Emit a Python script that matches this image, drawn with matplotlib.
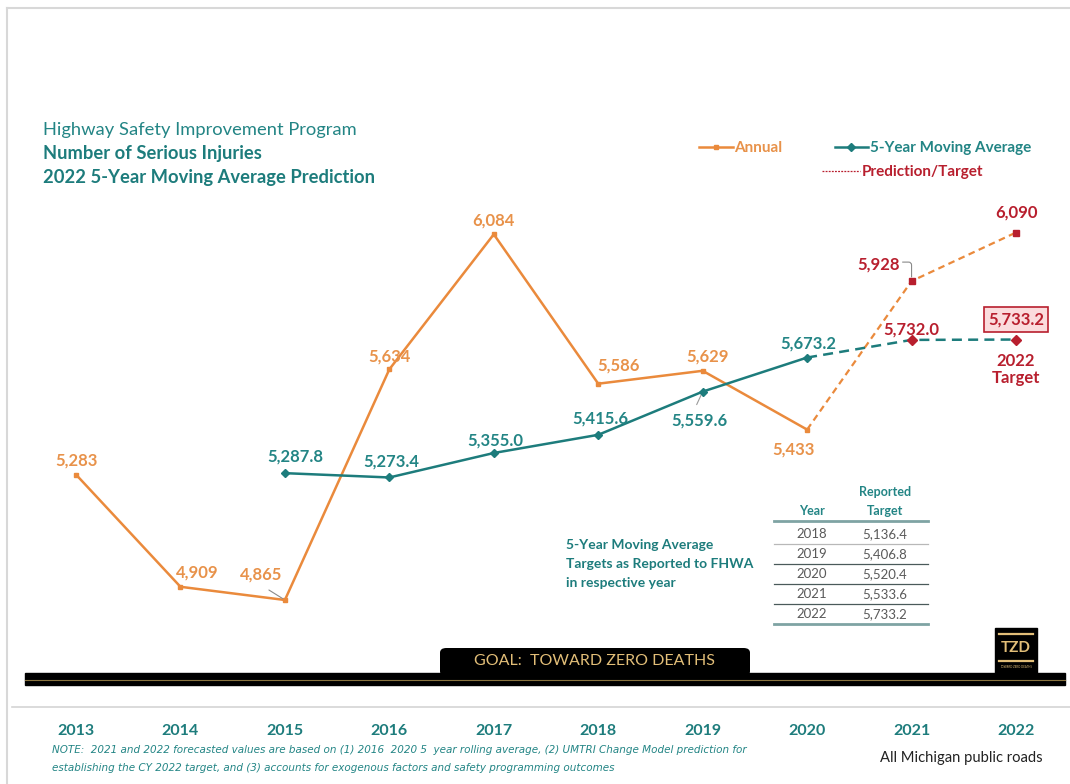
import numpy as np
import matplotlib.pyplot as plt
from matplotlib.lines import Line2D
from matplotlib.patches import Rectangle, FancyBboxPatch

# ---- data ----
years = [2013, 2014, 2015, 2016, 2017, 2018, 2019, 2020, 2021, 2022]
annual = [5283, 4909, 4865, 5634, 6084, 5586, 5629, 5433, 5928, 6090]
ma_years = [2015, 2016, 2017, 2018, 2019, 2020, 2021, 2022]
moving_avg = [5287.8, 5273.4, 5355.0, 5415.6, 5559.6, 5673.2, 5732.0, 5733.2]
n_actual = 8        # annual values up to 2020 are actual
n_ma_actual = 6     # moving avg up to 2020 is actual

table_years = [2018, 2019, 2020, 2021, 2022]
table_targets = [5136.4, 5406.8, 5520.4, 5533.6, 5733.2]

ORANGE = "#EA8A3C"
ORANGE_TXT = "#E8924A"
TEAL = "#1D7C7C"
TEAL_TXT = "#238585"
RED = "#B81F2E"
GOLD = "#E2BE78"
FONT = "Lato"

plt.rcParams['font.family'] = [FONT, 'DejaVu Sans']

W, H = 1070, 784
fig = plt.figure(figsize=(W / 100, H / 100), dpi=100)

def fx(px):
    return px / W

def fy(py):
    return 1 - py / H

# axes: pixel 12..1070 horizontally, 100..707 vertically
ax = fig.add_axes([fx(12), fy(707), fx(1058), (707 - 100) / H])
ax.set_xlim(2012.387, 2022.517)
ax.set_ylim(4508.3, 6531.7)
for s in ["top", "left", "right"]:
    ax.spines[s].set_visible(False)
ax.spines["bottom"].set_color("#d4d4d4")
ax.spines["bottom"].set_linewidth(1.2)
ax.set_yticks([])
ax.set_xticks(years)
ax.set_xticklabels([str(y) for y in years], color=TEAL, fontweight="bold", fontsize=11.5)
ax.tick_params(axis="x", length=0, pad=12)

# annual actual
ax.plot(years[:n_actual], annual[:n_actual], color=ORANGE, lw=1.8,
        marker="s", ms=3.5, zorder=3)
# annual prediction
ax.plot(years[n_actual - 1:], annual[n_actual - 1:], color=ORANGE, lw=1.6,
        ls=(0, (3, 2)), zorder=3)
ax.plot(years[n_actual:], annual[n_actual:], ls="none", marker="s", ms=4,
        color=RED, zorder=4)

# moving average actual
ax.plot(ma_years[:n_ma_actual], moving_avg[:n_ma_actual], color=TEAL, lw=1.8,
        marker="D", ms=4.5, zorder=3)
ax.plot(ma_years[n_ma_actual - 1:], moving_avg[n_ma_actual - 1:], color=TEAL,
        lw=1.8, ls=(0, (4, 2.5)), zorder=3)
ax.plot(ma_years[n_ma_actual:], moving_avg[n_ma_actual:], ls="none", marker="D",
        ms=5, color=RED, zorder=4)

# ---- data labels ----
LBL = 12
ann_off = [(0, 14), (17, 14), (-24, 25), (0, 13), (0, 14), (20, 18), (5, 14),
           (-14, -20), (-33, 17), (0, 20)]
for i, (x, v) in enumerate(zip(years, annual)):
    col = ORANGE_TXT if i < n_actual else RED
    ax.annotate(f"{v:,}", (x, v), xytext=ann_off[i], textcoords="offset pixels",
                ha="center", va="center", fontsize=LBL, fontweight="bold", color=col)

ma_off = [(10, 17), (2, 16), (2, 12), (2, 16), (-3, -29), (1, 14), (0, 10), (0, 20)]
for i, (x, v) in enumerate(zip(ma_years, moving_avg)):
    col = TEAL_TXT if i < n_ma_actual else RED
    if i == len(ma_years) - 1:
        ax.annotate(f"{v:,.1f}", (x, v), xytext=ma_off[i], textcoords="offset pixels",
                    ha="center", va="center", fontsize=LBL, fontweight="bold", color=col,
                    bbox=dict(boxstyle="square,pad=0.25", fc="#FBDCDD", ec=RED, lw=1.2))
    else:
        ax.annotate(f"{v:,.1f}", (x, v), xytext=ma_off[i], textcoords="offset pixels",
                    ha="center", va="center", fontsize=LBL, fontweight="bold", color=col)

ax.annotate("2022\nTarget", (ma_years[-1], moving_avg[-1]), xytext=(0, -30),
            textcoords="offset pixels", ha="center", va="center", fontsize=LBL,
            fontweight="bold", color=RED, linespacing=1.1)

# leader lines
ax.annotate("", (years[2], annual[2]), xytext=(-16, 10), textcoords="offset pixels",
            arrowprops=dict(arrowstyle="-", color="#8a8a8a", lw=0.8, shrinkA=0, shrinkB=2))
ax.annotate("", (ma_years[4], moving_avg[4]), xytext=(-6, -13), textcoords="offset pixels",
            arrowprops=dict(arrowstyle="-", color="#9a9a9a", lw=0.8, shrinkA=0, shrinkB=3))
ax.annotate("", (years[8], annual[8]), xytext=(-9, 19), textcoords="offset pixels",
            arrowprops=dict(arrowstyle="-", color="#8a8a8a", lw=0.8, shrinkA=0, shrinkB=3,
                            connectionstyle="angle,angleA=0,angleB=90,rad=3"))

# ---- legend ----
h_annual = Line2D([], [], color=ORANGE, lw=1.8, marker="s", ms=3.5)
h_ma = Line2D([], [], color=TEAL, lw=1.8, marker="D", ms=4.5)
h_pred = Line2D([], [], color=RED, lw=0.9, ls=(0, (1.5, 1)))
leg1 = ax.legend([h_annual, h_ma], ["Annual", "5-Year Moving Average"], ncol=2,
                 loc="center right", bbox_to_anchor=(fx(1031), fy(148)),
                 bbox_transform=fig.transFigure, frameon=False, handlelength=2.2,
                 handletextpad=0.1, columnspacing=3.4, borderpad=0, borderaxespad=0,
                 labelcolor=[ORANGE_TXT, TEAL_TXT],
                 prop=dict(family=FONT, weight="bold", size=11))
ax.add_artist(leg1)
ax.legend([h_pred], ["Prediction/Target"], loc="center right",
          bbox_to_anchor=(fx(983), fy(172)), bbox_transform=fig.transFigure,
          frameon=False, handlelength=2.5, handletextpad=0.1, borderpad=0,
          borderaxespad=0, labelcolor=[RED],
          prop=dict(family=FONT, weight="bold", size=11))

# ---- title ----
fig.text(fx(43), fy(130), "Highway Safety Improvement Program", color=TEAL_TXT,
         fontsize=13.2, va="center", ha="left")
fig.text(fx(43), fy(154), "Number of Serious Injuries", color=TEAL,
         fontsize=13.2, fontweight="bold", va="center", ha="left")
fig.text(fx(43), fy(178), "2022 5-Year Moving Average Prediction", color=TEAL,
         fontsize=13.2, fontweight="bold", va="center", ha="left")

# ---- reported targets table ----
for k, line in enumerate(["5-Year Moving Average", "Targets as Reported to FHWA",
                          "in respective year"]):
    fig.text(fx(566), fy(545 + k * 19), line, color=TEAL, fontsize=10,
             fontweight="bold", va="center", ha="left")

fig.text(fx(885), fy(492), "Reported", color=TEAL_TXT, fontsize=9, fontweight="bold",
         ha="center", va="center")
fig.text(fx(885), fy(511), "Target", color=TEAL_TXT, fontsize=9, fontweight="bold",
         ha="center", va="center")
fig.text(fx(812), fy(511), "Year", color=TEAL_TXT, fontsize=9, fontweight="bold",
         ha="center", va="center")
fig.add_artist(Line2D([fx(774), fx(928)], [fy(521), fy(521)], color="#7FA3A3", lw=2))
for k, (yr, tg) in enumerate(zip(table_years, table_targets)):
    yc = 534 + k * 20
    fig.text(fx(812), fy(yc), str(yr), color="#5a5a5a", fontsize=9.5, ha="center", va="center")
    fig.text(fx(885), fy(yc), f"{tg:,.1f}", color="#5a5a5a", fontsize=9.5, ha="center", va="center")
    if k < len(table_years) - 1:
        lc = "#b8b8b8" if k == 0 else "#4a5a5a"
        fig.add_artist(Line2D([fx(774), fx(928)], [fy(yc + 10), fy(yc + 10)], color=lc, lw=0.9))
fig.add_artist(Line2D([fx(774), fx(928)], [fy(624), fy(624)], color="#7FA3A3", lw=2))

# ---- goal banner / road ----
fig.add_artist(Rectangle((fx(25), fy(685)), fx(1040), (685 - 673) / H, color="black"))
fig.add_artist(Line2D([fx(25), fx(1065)], [fy(680), fy(680)], color="#8a7440", lw=0.8))
fig.add_artist(FancyBboxPatch((fx(440), fy(676)), fx(310), (676 - 648) / H,
                              boxstyle="round,pad=0,rounding_size=0.006",
                              fc="black", ec="none"))
fig.text(fx(594), fy(661), "GOAL:  TOWARD ZERO DEATHS", color=GOLD, fontsize=11.5,
         ha="center", va="center")

# TZD logo
fig.add_artist(Rectangle((fx(995), fy(674)), fx(42), (674 - 628) / H, color="black"))
fig.add_artist(Line2D([fx(999), fx(1033)], [fy(634), fy(634)], color=GOLD, lw=1.6))
fig.add_artist(Line2D([fx(999), fx(1033)], [fy(661), fy(661)], color=GOLD, lw=1.6))
fig.text(fx(1016), fy(648), "TZD", color=GOLD, fontsize=11, fontweight="bold",
         ha="center", va="center")
fig.text(fx(1016), fy(667), "TOWARD ZERO DEATHS", color=GOLD, fontsize=2,
         ha="center", va="center")

# ---- notes ----
note_font = ["Liberation Sans Narrow", "DejaVu Sans"]
fig.text(fx(52), fy(750),
         "NOTE:  2021 and 2022 forecasted values are based on (1) 2016  2020 5  year rolling average, "
         "(2) UMTRI Change Model prediction for",
         color=TEAL_TXT, fontsize=7.45, style="italic", family=note_font, ha="left", va="center")
fig.text(fx(52), fy(768),
         "establishing the CY 2022 target, and (3) accounts for exogenous factors and safety programming outcomes",
         color=TEAL_TXT, fontsize=7.45, style="italic", family=note_font, ha="left", va="center")
fig.text(fx(1043), fy(758), "All Michigan public roads", color="#222222", fontsize=10.6,
         ha="right", va="center")

# frame of the slide
fig.add_artist(Line2D([fx(7), fx(1070)], [fy(8), fy(8)], color="#d8d8d8", lw=1.5))
fig.add_artist(Line2D([fx(7), fx(7)], [fy(8), fy(784)], color="#d8d8d8", lw=1.5))

fig.savefig("out.png", dpi=100)
